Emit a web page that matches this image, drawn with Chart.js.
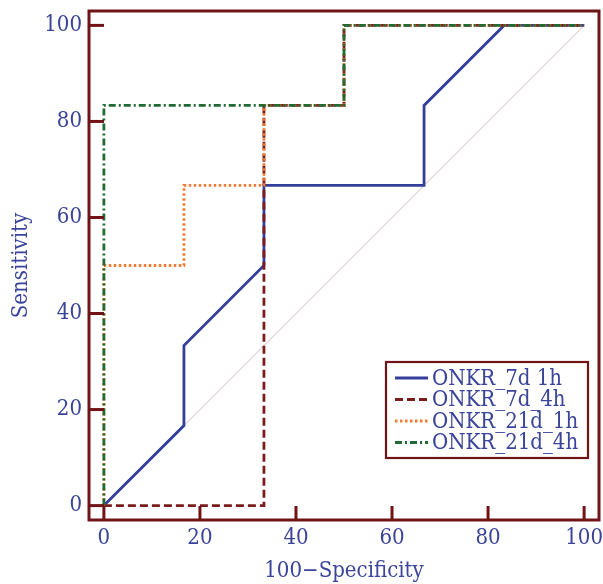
<!DOCTYPE html>
<html><head><meta charset="utf-8">
<script src="https://cdn.jsdelivr.net/npm/chart.js@4"></script>
<style>html,body{margin:0;padding:0;background:#fff}#wrap{width:603px;height:584px;position:relative}</style>
</head><body><div id="wrap"><canvas id="c" width="603" height="584"></canvas></div>
<script>
const xTickValues = [0, 20, 40, 60, 80, 100];
const yTickValues = [0, 20, 40, 60, 80, 100];
const xTitle = '100\u2212Specificity';
const yTitle = 'Sensitivity';
const seriesNames = ['ONKR_7d 1h', 'ONKR_7d_4h', 'ONKR_21d_1h', 'ONKR_21d_4h'];

const fpr_7d_1h  = [0, 16.67, 16.67, 33.33, 33.33, 66.67, 66.67, 83.33, 100];
const tpr_7d_1h  = [0, 16.67, 33.33, 50, 66.67, 66.67, 83.33, 100, 100];
const fpr_7d_4h  = [0, 33.33, 33.33, 50, 50, 100];
const tpr_7d_4h  = [0, 0, 83.33, 83.33, 100, 100];
const fpr_21d_1h = [0, 0, 16.67, 16.67, 33.33, 33.33, 50, 50, 100];
const tpr_21d_1h = [0, 50, 50, 66.67, 66.67, 83.33, 83.33, 100, 100];
const fpr_21d_4h = [0, 0, 50, 50, 100];
const tpr_21d_4h = [0, 83.33, 83.33, 100, 100];
const diagX = [0, 100];
const diagY = [0, 100];

const FRAME = '#701418';
const TEXT = '#3a449b';
const FONT = '"DejaVu Serif Condensed", "Liberation Serif", serif';
const FS = 22;
const styles = [
  {color: '#343f9c', dash: [], width: 2.8},
  {color: '#7a1c1e', dash: [8, 4], width: 2.8},
  {color: '#f27a32', dash: [2.5, 2.5], width: 2.8},
  {color: '#1f6b33', dash: [7, 3, 2, 3], width: 2.8}
];
const pts = (xs, ys) => xs.map((x, i) => ({x: x, y: ys[i]}));
const seriesData = [pts(fpr_7d_1h, tpr_7d_1h), pts(fpr_7d_4h, tpr_7d_4h), pts(fpr_21d_1h, tpr_21d_1h), pts(fpr_21d_4h, tpr_21d_4h)];

const datasets = seriesData.map((d, i) => ({
  label: seriesNames[i], data: d, showLine: true, borderColor: styles[i].color,
  borderWidth: styles[i].width, borderDash: styles[i].dash, pointRadius: 0,
  fill: false, tension: 0, order: 3 - i
}));
datasets.push({label: 'diag', data: pts(diagX, diagY), showLine: true, borderColor: '#e3d3d3',
  borderWidth: 1.2, pointRadius: 0, order: 10});

const framePlugin = {
  id: 'frame',
  afterDraw(chart) {
    const ctx = chart.ctx, a = chart.chartArea, xs = chart.scales.x, ys = chart.scales.y;
    ctx.save();
    ctx.strokeStyle = FRAME; ctx.lineWidth = 3; ctx.setLineDash([]);
    ctx.strokeRect(a.left, a.top, a.right - a.left, a.bottom - a.top);
    xTickValues.forEach(v => { const p = xs.getPixelForValue(v); ctx.beginPath(); ctx.moveTo(p, a.bottom); ctx.lineTo(p, a.bottom - 14); ctx.stroke(); });
    yTickValues.forEach(v => { const p = ys.getPixelForValue(v); ctx.beginPath(); ctx.moveTo(a.left, p); ctx.lineTo(a.left + 15, p); ctx.stroke(); });
    // legend
    const lx = 386, ly = 362, lw = 202, lh = 96;
    ctx.fillStyle = '#fff'; ctx.fillRect(lx, ly, lw, lh);
    ctx.lineWidth = 2.2; ctx.strokeStyle = FRAME; ctx.strokeRect(lx, ly, lw, lh);
    ctx.font = FS + 'px ' + FONT; ctx.textBaseline = 'middle'; ctx.textAlign = 'left';
    seriesNames.forEach((n, i) => {
      const cy = ly + 16 + i * 21.5;
      ctx.strokeStyle = styles[i].color; ctx.lineWidth = 2.8; ctx.setLineDash(styles[i].dash);
      ctx.beginPath(); ctx.moveTo(lx + 9, cy); ctx.lineTo(lx + 42, cy); ctx.stroke();
      ctx.setLineDash([]);
      ctx.fillStyle = TEXT; ctx.fillText(n, lx + 46, cy + 1);
    });
    ctx.restore();
  }
};

const noPad = s => { s.paddingLeft = 0; s.paddingRight = 0; s.paddingTop = 0; s.paddingBottom = 0; };

new Chart(document.getElementById('c'), {
  type: 'scatter',
  data: {datasets: datasets},
  options: {
    responsive: false, animation: false, devicePixelRatio: 1,
    layout: {padding: {top: 11, right: 4, left: 0, bottom: 0}},
    plugins: {legend: {display: false}, tooltip: {enabled: false}},
    scales: {
      x: {
        type: 'linear', min: -3.1, max: 103.1,
        afterBuildTicks: s => { s.ticks = xTickValues.map(v => ({value: v})); },
        afterFit: s => { s.height = 64; noPad(s); },
        grid: {display: false, drawTicks: false}, border: {display: false},
        ticks: {color: TEXT, font: {family: FONT, size: FS}, padding: 5, maxRotation: 0},
        title: {display: true, text: xTitle, color: TEXT, font: {family: FONT, size: FS}, padding: {top: 0, bottom: 0}}
      },
      y: {
        type: 'linear', min: -3, max: 103,
        afterBuildTicks: s => { s.ticks = yTickValues.map(v => ({value: v})); },
        afterFit: s => { s.width = 89; noPad(s); },
        grid: {display: false, drawTicks: false}, border: {display: false},
        ticks: {color: TEXT, font: {family: FONT, size: FS}, padding: 7},
        title: {display: true, text: yTitle, color: TEXT, font: {family: FONT, size: FS}, padding: {top: 8, bottom: 0}}
      }
    }
  },
  plugins: [framePlugin]
});
</script></body></html>
